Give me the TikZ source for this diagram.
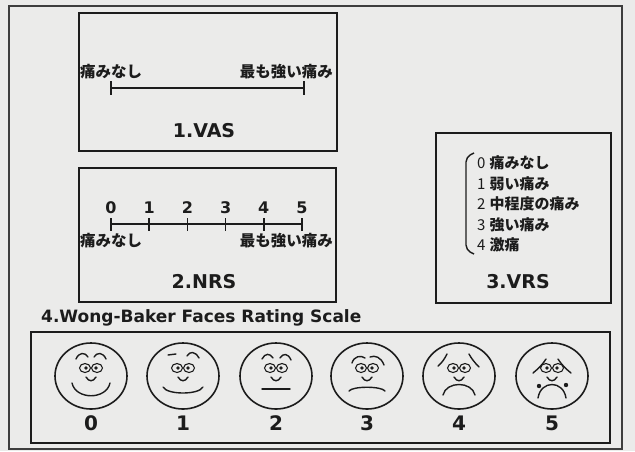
\documentclass[tikz,border=0pt]{standalone}
\usepackage{fontspec}
\setmainfont{Noto Sans CJK JP}
\newfontfamily\latinfont{DejaVu Sans}
\usetikzlibrary{positioning}
\definecolor{paper}{HTML}{EBEBEA}
\definecolor{ink}{HTML}{1C1C1C}
\tikzset{
  boxframe/.style={draw=ink, line width=2.2pt},
  scaleline/.style={draw=ink, line width=1.6pt},
  jplbl/.style={font=\bfseries\fontsize{15.5}{16}\selectfont, text=ink, inner sep=0pt},
  vrsitem/.style={font=\fontsize{15}{16}\selectfont, text=ink, inner sep=0pt, anchor=west},
  ttl/.style={font=\latinfont\bfseries\fontsize{19}{20}\selectfont, text=ink, inner sep=0pt},
  numlbl/.style={font=\latinfont\bfseries\fontsize{16}{17}\selectfont, text=ink, inner sep=0pt},
  facenum/.style={font=\latinfont\bfseries\fontsize{20}{21}\selectfont, text=ink, inner sep=0pt},
  face/.style={draw=ink, line width=1.6pt},
  feat/.style={draw=ink, line width=1.4pt, line cap=round},
}

\begin{document}
\begin{tikzpicture}[x=1pt, y=-1pt]
  \fill[paper] (0,0) rectangle (635,451);
  \useasboundingbox (0,0) rectangle (635,451);
  \draw[draw=ink!85, line width=1.2pt] (9,6) rectangle (622,449);

  % 1. VAS
  \draw[boxframe] (79,13) rectangle (337,151);
  \node[jplbl, anchor=west] (vasL) at (80,72) {痛みなし};
  \node[jplbl, anchor=east] (vasR) at (333,72) {最も強い痛み};
  \draw[scaleline] (111,88) -- (304,88);
  \draw[scaleline] (111,81) -- (111,95);
  \draw[scaleline] (304,81) -- (304,95);
  \node[ttl] (vasT) at (204,131) {1.VAS};

  % 2. NRS
  \draw[boxframe] (79,168) rectangle (336,302);
  \draw[scaleline] (111,224) -- (302,224);
  \foreach \n in {0,...,5}{
    \pgfmathsetmacro{\tx}{111+38.2*\n}
    \draw[scaleline] (\tx,218) -- (\tx,231);
    \node[numlbl] (nrs\n) at (\tx,208) {\n};
  }
  \node[jplbl, anchor=west] (nrsL) at (80,241) {痛みなし};
  \node[jplbl, anchor=east] (nrsR) at (333,241) {最も強い痛み};
  \node[ttl] (nrsT) at (204,282) {2.NRS};

  % 3. VRS
  \draw[boxframe] (436,133) rectangle (611,303);
  \draw[scaleline, line width=1.4pt, rounded corners=5pt] (474,153) -- (466,157) -- (466,250) -- (474,254);
  \foreach \n/\txt in {0/痛みなし,1/弱い痛み,2/中程度の痛み,3/強い痛み,4/激痛}{
    \node[vrsitem] (vrs\n) at (477,{163+20.5*\n}) {\n\hspace{4pt}{\bfseries\txt}};
  }
  \node[ttl] (vrsT) at (518,282) {3.VRS};

  % 4. faces
  \node[ttl, anchor=west, font=\latinfont\bfseries\fontsize{17}{18}\selectfont] (wbT) at (41,318) {4.Wong-Baker Faces Rating Scale};
  \draw[boxframe] (31,332) rectangle (610,443);
  \foreach \i/\cx/\w/\e/\c in {0/91/19/7/24, 1/183/20/11/19, 2/276/14/13/13, 3/367/18/15/10, 4/459/16/19/5, 5/552/14/22/4}{
    \begin{scope}[shift={(\cx,376)}]
      \draw[face] (0,0) ellipse[x radius=36, y radius=33];
      % eyes and nose
      \draw[feat, line width=1.1pt] (-6,-8) ellipse[x radius=5.5, y radius=4.5];
      \draw[feat, line width=1.1pt] (6,-8) ellipse[x radius=5.5, y radius=4.5];
      \fill[ink] (-5,-8) circle[radius=1.8];
      \fill[ink] (5,-8) circle[radius=1.8];
      \draw[feat] (-5,1) .. controls (-2,6) and (2,6) .. (5,1);
      % mouth
      \draw[feat] (-\w,\e) .. controls ({-0.8*\w},\c) and ({0.8*\w},\c) .. (\w,\e);
      % brows
      \ifcase\i
        \draw[feat] (-15,-17) .. controls (-12,-24) and (-6,-24) .. (-3,-19);
        \draw[feat] (3,-19) .. controls (6,-24) and (12,-24) .. (15,-17);
      \or
        \draw[feat] (-15,-21) -- (-7,-22);
        \draw[feat] (4,-20) .. controls (7,-25) and (12,-25) .. (16,-18);
      \or
        \draw[feat] (-14,-17) .. controls (-11,-23) and (-6,-23) .. (-3,-18);
        \draw[feat] (4,-18) .. controls (7,-23) and (12,-23) .. (15,-16);
      \or
        \draw[feat] (-15,-13) .. controls (-13,-20) and (-6,-21) .. (-2,-18);
        \draw[feat] (3,-19) .. controls (8,-21) and (14,-19) .. (17,-11);
      \or
        \draw[feat] (-21,-10) .. controls (-17,-13) and (-14,-18) .. (-12,-22);
        \draw[feat] (10,-22) .. controls (12,-18) and (16,-13) .. (20,-9);
      \or
        \draw[feat] (-19,-3) .. controls (-14,-7) and (-9,-12) .. (-6,-17);
        \draw[feat] (6,-17) .. controls (9,-12) and (14,-7) .. (19,-3);
        \fill[ink] (-13,10) circle[radius=2.2];
        \fill[ink] (14,9) circle[radius=2.2];
      \fi
    \end{scope}
    \node[facenum] (wb\i) at (\cx,423) {\i};
  }
\end{tikzpicture}
\end{document}
